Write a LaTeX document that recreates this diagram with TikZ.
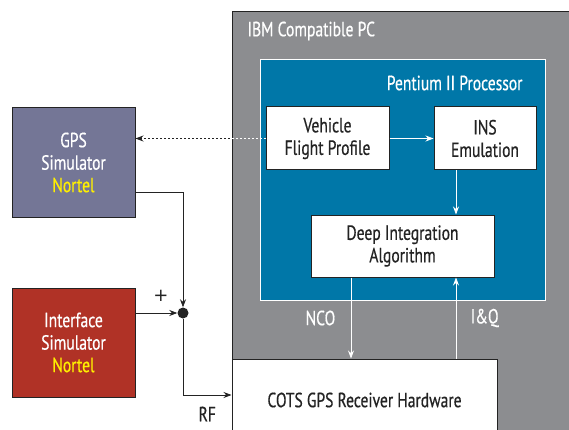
\documentclass[tikz,border=0pt]{standalone}
\usepackage{fontspec}
\setmainfont[FakeStretch=0.76,FakeBold=0.5]{PT Sans}
\newfontfamily\thinfont{DejaVu Sans}
\usetikzlibrary{arrows.meta}
\definecolor{pcgray}{RGB}{140,141,144}
\definecolor{cpublue}{RGB}{0,119,168}
\definecolor{gpsslate}{RGB}{116,118,150}
\definecolor{ifred}{RGB}{176,50,38}
\definecolor{nortel}{RGB}{255,240,0}
\definecolor{edge}{RGB}{35,35,35}

\begin{document}
\begin{tikzpicture}[x=1pt,y=-1pt,
  every node/.style={font=\fontsize{20.5}{22.5}\selectfont,align=center},
  box/.style={rectangle,draw=edge,fill=white,text=edge,inner sep=0pt,line width=1pt},
  sim/.style={box,text=white,minimum width=123pt,minimum height=110pt},
  arr/.style={-{Stealth[length=8pt,width=6pt]},line width=0.8pt}]

\useasboundingbox (0,0) rectangle (569,430);

% PC and processor frames
\path[fill=pcgray,draw=edge,line width=1pt] (232,12) rectangle (580,440);
\path (244,31) node[anchor=west,text=white](pc){IBM Compatible PC};
\path[fill=cpublue,draw=white,line width=0.8pt] (260,59) rectangle (545,300);
\path (526,83) node[anchor=east,text=white](cpu){Pentium II Processor};

\path (327.5,138.5) node[box,minimum width=123pt,minimum height=63pt](vfp){Vehicle\\Flight Profile};
\path (485,138.5) node[box,minimum width=102pt,minimum height=63pt](ins){INS\\Emulation};
\path (402.5,246) node[box,minimum width=183pt,minimum height=62pt](dia){Deep Integration\\Algorithm};
\path (364.5,400) node[box,minimum width=265pt,minimum height=82pt](cots){COTS GPS Receiver Hardware};

% simulators
\path (73.5,162.5) node[sim,fill=gpsslate](gps){GPS\\Simulator\\\textcolor{nortel}{Nortel}};
\path (73.5,342.5) node[sim,fill=ifred,minimum height=109pt](ifs){Interface\\Simulator\\\textcolor{nortel}{Nortel}};
\path (183,313) node[circle,fill=edge,minimum size=11pt,inner sep=0pt](sum){};
\path (161,296) node[text=edge,font=\thinfont\fontsize{18}{20}\selectfont](plus){+};

\coordinate (nco) at (351,0);
\coordinate (iq) at (456,0);

\draw[arr,edge] ([yshift=-30pt]gps.east) -| (sum.north);
\draw[arr,edge] (ifs.east |- sum) -- (sum.west);
\draw[arr,edge] (sum.south) |- ([yshift=5pt]cots.west) node[pos=0.75,below=8pt,text=edge]{RF};

\draw[arr,edge,dash pattern=on 2pt off 2pt] (vfp.west) -- (gps.east |- vfp.west);
\begin{scope}
\clip (232,12) rectangle (569,430);
\draw[white,line width=0.8pt,dash pattern=on 2pt off 2pt] (vfp.west) -- (gps.east |- vfp.west);
\end{scope}

\draw[arr,white] (vfp.east) -- (ins.west);
\draw[arr,white] (ins.south -| iq) -- (dia.north -| iq);
\draw[arr,white] (dia.south -| nco) -- (cots.north -| nco) node[midway,left=12pt,text=white]{NCO};
\draw[arr,white] (cots.north -| iq) -- (dia.south -| iq) node[midway,right=11pt,text=white]{I\&Q};

\end{tikzpicture}
\end{document}
